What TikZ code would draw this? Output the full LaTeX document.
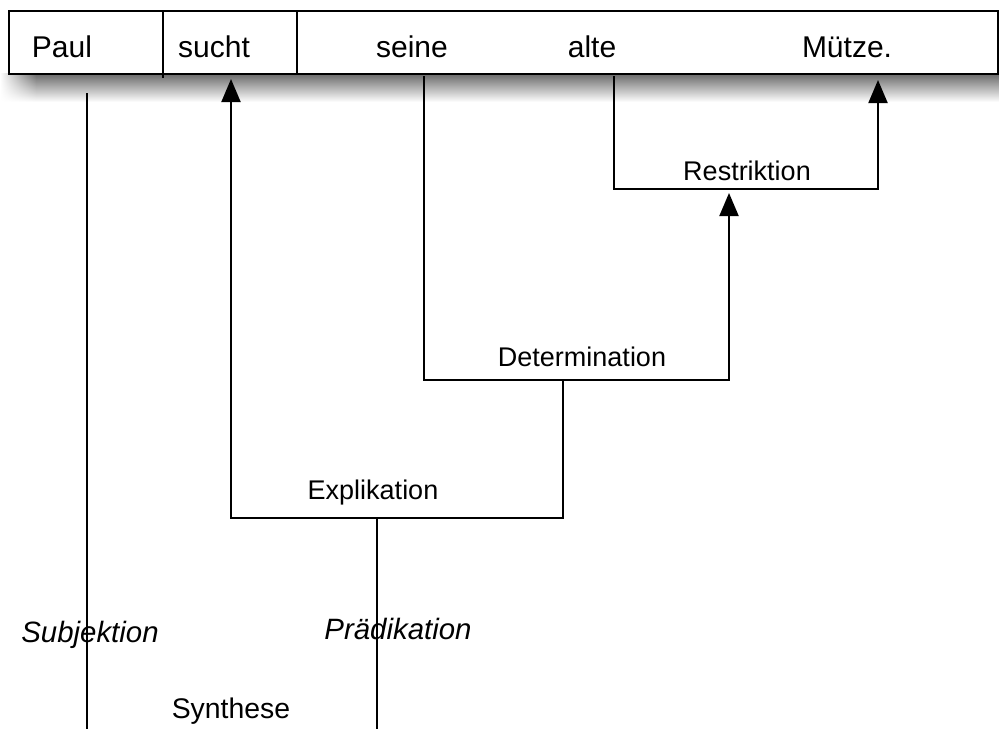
\documentclass[tikz,border=0pt]{standalone}
\usepackage{fontspec}
\setmainfont{Liberation Sans}
\usetikzlibrary{arrows.meta,fadings}
\tikzfading[name=fromleft, left color=transparent!100, right color=transparent!0]
\begin{document}
\begin{tikzpicture}[x=0.5pt,y=-0.5pt,
  word/.style={font=\fontsize{15}{18}\selectfont, anchor=base, inner sep=0pt},
  rel/.style={font=\fontsize{13.5}{16}\selectfont, anchor=base, inner sep=0pt},
  role/.style={font=\fontsize{14.7}{17}\selectfont\itshape, anchor=base, inner sep=0pt},
  link/.style={line width=1pt},
  arr/.style={link, -{Triangle[length=11.5pt,width=9.5pt]}},
  barshade/.style={top color=black!60, middle color=black!22, bottom color=white},
]
\useasboundingbox (0,0) rectangle (999,729);

% soft shadow under the sentence bar
\shade[barshade, path fading=fromleft] (0,73) rectangle (36,102);
\shade[barshade] (36,73) rectangle (999,102);

% sentence bar
\node (bar) [draw, line width=1.1pt, fill=white, inner sep=0pt,
  minimum width=494.5pt, minimum height=31.5pt] at (503.5,42.5) {};
\coordinate (d1top) at (163,11);
\coordinate (d1bot) at (163,78);
\coordinate (d2top) at (297,11);
\coordinate (d2bot) at (297,74);
\draw[link] (d1top) -- (d1bot);
\draw[link] (d2top) -- (d2bot);

% words
\node[word] (paul)   at (62,57)  {Paul};
\node[word] (sucht)  at (214,57) {sucht};
\node[word] (seine)  at (412,57) {seine};
\node[word] (alte)   at (592,57) {alte};
\node[word] (muetze) at (847,57) {Mütze.};

% relation labels
\node[rel] (restr) at (747,180) {Restriktion};
\node[rel] (determ) at (582,366) {Determination};
\node[rel] (explik) at (373,499) {Explikation};
\node[role] (subj) at (90,642) {Subjektion};
\node[role] (praed) at (398,639) {Prädikation};
\node[font=\fontsize{14.2}{17}\selectfont, anchor=base, inner sep=0pt] (synth) at (231,718) {Synthese};

% joints of the brackets
\coordinate (paulOut)  at (87,93);
\coordinate (paulFoot) at (87,729);
\coordinate (suchtIn)  at (231,79);
\coordinate (seineOut) at (424,76);
\coordinate (alteOut)  at (614,76);
\coordinate (muetzeIn) at (878,80);
\coordinate (resL) at (614,189);
\coordinate (resR) at (878,189);
\coordinate (resIn) at (729,193);
\coordinate (detL) at (424,380);
\coordinate (detR) at (729,380);
\coordinate (detM) at (563,380);
\coordinate (expL) at (231,518);
\coordinate (expR) at (563,518);
\coordinate (expM) at (377,518);
\coordinate (expFoot) at (377,729);

% connectors
\draw[arr] (alteOut) -- (resL) -- (resR) -- (muetzeIn);
\draw[arr] (seineOut) -- (detL) -- (detR) -- (resIn);
\draw[arr] (detM) -- (expR) -- (expL) -- (suchtIn);
\draw[link] (expM) -- (expFoot);
\draw[link] (paulOut) -- (paulFoot);
\end{tikzpicture}
\end{document}
